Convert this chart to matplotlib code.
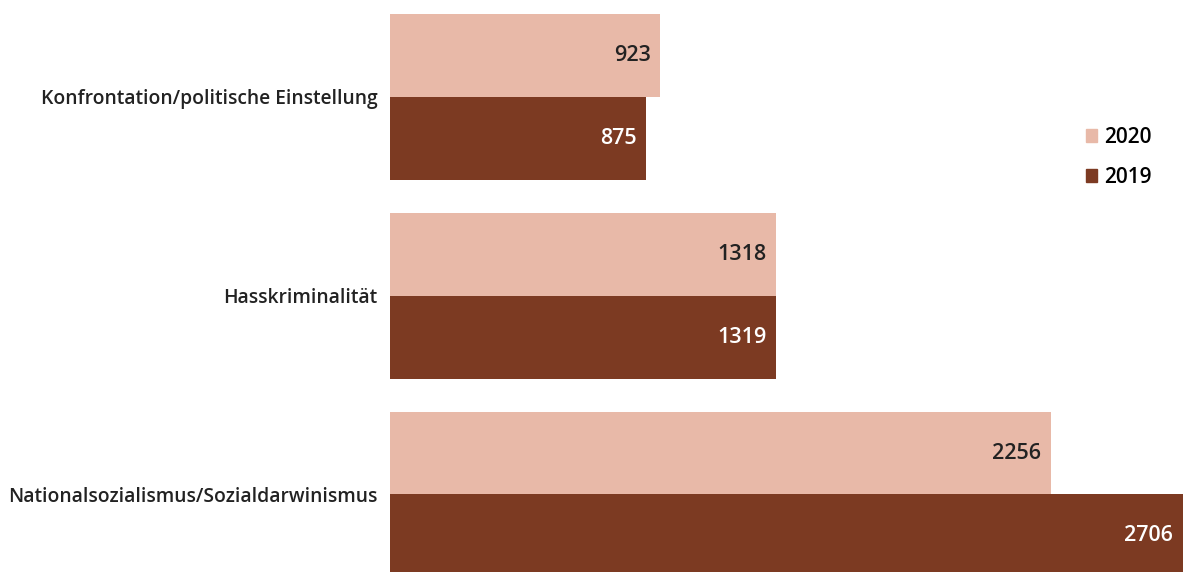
import matplotlib
matplotlib.use("Agg")
import matplotlib.pyplot as plt
from matplotlib.patches import Patch

categories = [
    "Konfrontation/politische Einstellung",
    "Hasskriminalität",
    "Nationalsozialismus/Sozialdarwinismus",
]
values_2020 = [923, 1318, 2256]
values_2019 = [875, 1319, 2706]
years = ["2020", "2019"]

LIGHT = "#e8b9a8"
DARK = "#7c3a22"
plt.rcParams["font.family"] = ["Open Sans", "DejaVu Sans"]

fig = plt.figure(figsize=(11.84, 5.72), dpi=100)
ax = fig.add_axes([390 / 1184, 0, 794 / 1184, 1])

h = 0.417
pos = range(len(categories))
b20 = ax.barh([p - h / 2 for p in pos], values_2020, height=h, color=LIGHT)
b19 = ax.barh([p + h / 2 for p in pos], values_2019, height=h, color=DARK)

# value labels inside the bar ends
for bars, col in ((b20, "#222222"), (b19, "white")):
    for bar in bars:
        w = bar.get_width()
        ax.annotate(f"{int(w)}", (w, bar.get_y() + bar.get_height() / 2),
                    xytext=(-7, 0), textcoords="offset points",
                    ha="right", va="center", fontsize=15.5, color=col,
                    fontweight="semibold")

ax.set_xlim(0, 2711)
ax.set_ylim(2.39, -0.488)
ax.set_yticks(list(pos))
ax.set_yticklabels(categories, fontsize=13.9, fontweight="semibold", color="#222222")
ax.tick_params(axis="y", length=0, pad=9)
ax.set_xticks([])
for s in ax.spines.values():
    s.set_visible(False)

handles = [Patch(color=LIGHT), Patch(color=DARK)]
fig.legend(handles, years, loc="upper left", bbox_to_anchor=(1086 / 1184, 1 - 127 / 572),
           frameon=False, prop={"weight": "semibold", "size": 15},
           handlelength=0.55, handleheight=0.55,
           handletextpad=0.3, labelspacing=0.9, borderpad=0, borderaxespad=0)

fig.savefig("out.png", dpi=100)
